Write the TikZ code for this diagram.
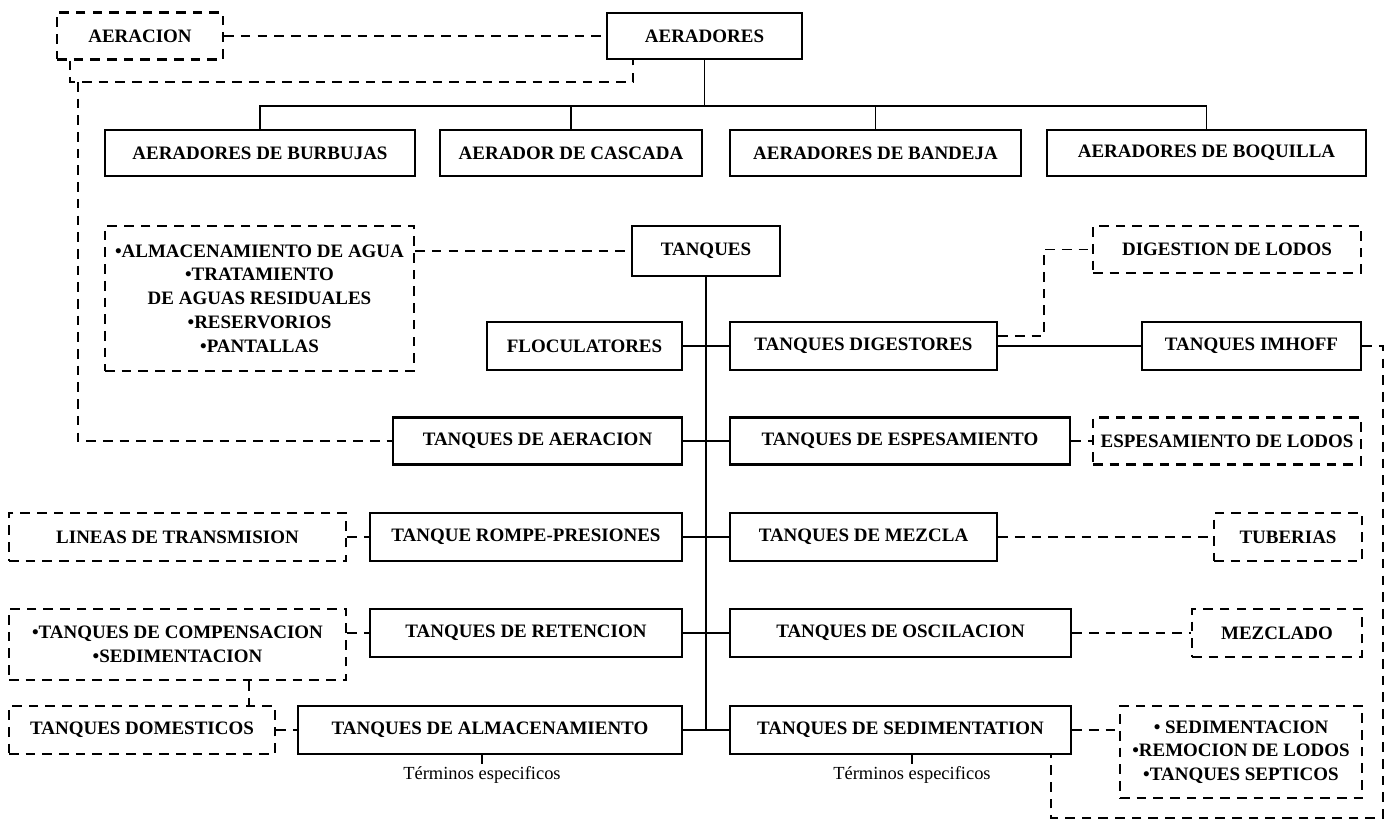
\documentclass[tikz,border=0pt]{standalone}
\usepackage{fontspec}
\setmainfont{Liberation Serif}
\usetikzlibrary{positioning,calc}
\tikzset{>=latex}
\newcommand{\pxl}{0.02cm}

\begin{document}
\begin{tikzpicture}[x=0.02cm, y=-0.02cm,
	box/.style={draw, line width=1.3pt, font=\bfseries\fontsize{10.8}{13.5}\selectfont, align=center, inner sep=1pt},
	dbox/.style={box, dash pattern=on 5.5pt off 4pt},
	line/.style={line width=1.1pt},
	dline/.style={line width=1.1pt, dash pattern=on 5.5pt off 4pt},
	small/.style={font=\fontsize{10.5}{12}\selectfont, inner sep=1pt}]
	\useasboundingbox (0,0) rectangle (1394,824);

	% Top row
	\node[dbox, minimum width=166*\pxl, minimum height=47*\pxl] (aeracion) at (140,36) {AERACION}; %generic term
	\node[box, minimum width=195*\pxl, minimum height=46*\pxl] (aeradores) at (704.5,36) {AERADORES};

	% Kinds of aerators
	\node[box, minimum width=310*\pxl, minimum height=46*\pxl] (burbujas) at (260,153) {AERADORES DE BURBUJAS};
	\node[box, minimum width=262*\pxl, minimum height=46*\pxl] (cascada) at (571,153) {AERADOR DE CASCADA};
	\node[box, minimum width=291*\pxl, minimum height=46*\pxl] (bandeja) at (875.5,153) {AERADORES DE BANDEJA};
	\node[box, minimum width=319*\pxl, minimum height=46*\pxl] (boquilla) at (1206.5,153) {AERADORES DE BOQUILLA};

	% Tanks
	\node[dbox, minimum width=309*\pxl, minimum height=145*\pxl] (almacen) at (259.5,298.5) {\textbullet ALMACENAMIENTO DE AGUA\\ \textbullet TRATAMIENTO\\ DE AGUAS RESIDUALES\\ \textbullet RESERVORIOS\\ \textbullet PANTALLAS};
	\node[box, minimum width=148*\pxl, minimum height=50*\pxl] (tanques) at (706,251) {TANQUES};
	\node[dbox, minimum width=268*\pxl, minimum height=47*\pxl] (digestion) at (1227,249.5) {DIGESTION DE LODOS};

	\node[box, minimum width=195*\pxl, minimum height=48*\pxl] (floculatores) at (584.5,346) {FLOCULATORES};
	\node[box, minimum width=267*\pxl, minimum height=48*\pxl] (digestores) at (863.5,346) {TANQUES DIGESTORES};
	\node[box, minimum width=219*\pxl, minimum height=48*\pxl] (imhoff) at (1251.5,346) {TANQUES IMHOFF};

	\node[box, minimum width=289*\pxl, minimum height=47*\pxl] (taeracion) at (537.5,441) {TANQUES DE AERACION};
	\node[box, minimum width=340*\pxl, minimum height=47*\pxl] (espesamiento) at (900,441) {TANQUES DE ESPESAMIENTO};
	\node[dbox, minimum width=268*\pxl, minimum height=47*\pxl] (esplodos) at (1227,441) {ESPESAMIENTO DE LODOS};

	\node[dbox, minimum width=337*\pxl, minimum height=48*\pxl] (lineas) at (177.5,537) {LINEAS DE TRANSMISION};
	\node[box, minimum width=312*\pxl, minimum height=48*\pxl] (rompe) at (526,537) {TANQUE ROMPE-PRESIONES};
	\node[box, minimum width=267*\pxl, minimum height=48*\pxl] (mezcla) at (863.5,537) {TANQUES DE MEZCLA};
	\node[dbox, minimum width=148*\pxl, minimum height=48*\pxl] (tuberias) at (1288,537) {TUBERIAS};

	\node[dbox, minimum width=337*\pxl, minimum height=71*\pxl] (compensacion) at (177.5,644.5) {\textbullet TANQUES DE COMPENSACION\\ \textbullet SEDIMENTACION};
	\node[box, minimum width=312*\pxl, minimum height=48*\pxl] (retencion) at (526,633) {TANQUES DE RETENCION};
	\node[box, minimum width=341*\pxl, minimum height=48*\pxl] (oscilacion) at (900.5,633) {TANQUES DE OSCILACION};
	\node[dbox, minimum width=170*\pxl, minimum height=48*\pxl] (mezclado) at (1277,633) {MEZCLADO};

	\node[dbox, minimum width=266*\pxl, minimum height=48*\pxl] (domesticos) at (142,730) {TANQUES DOMESTICOS};
	\node[box, minimum width=384*\pxl, minimum height=48*\pxl] (almacenamiento) at (490,730) {TANQUES DE ALMACENAMIENTO};
	\node[box, minimum width=341*\pxl, minimum height=48*\pxl] (sedimentation) at (900.5,730) {TANQUES DE SEDIMENTATION};
	\node[dbox, minimum width=242*\pxl, minimum height=92*\pxl] (septicos) at (1241,752) {\textbullet\ SEDIMENTACION\\ \textbullet REMOCION DE LODOS\\ \textbullet TANQUES SEPTICOS};

	% Extra labels
	\node[small] (term1) at (482,775) {Términos especificos};
	\node[small] (term2) at (912,775) {Términos especificos};

	% Joints of the dashed lines
	\coordinate (aj) at (70,82); %below AERACION
	\coordinate (bj) at (633,82); %below AERADORES
	\coordinate (lj) at (78,82); %long left line
	\coordinate (bus) at (704.5,106); %bus of the aerators
	\coordinate (dj) at (1044,336); %digestion bend
	\coordinate (rj) at (1383,818); %right loop corner
	\coordinate (sj) at (1051,818); %bottom loop corner
	\coordinate (cj) at (249,690); %compensacion to domesticos

	% Drawing everything
	\draw[dline] (aeracion.east) -- (aeradores.west);
	\draw[dline] (aj |- aeracion.south) -- (aj) -- (bj) -- (bj |- aeradores.south);
	\draw[dline] (lj) -- (lj |- taeracion.west) -- (taeracion.west);

	\draw[line] (aeradores.south) -- (aeradores.south |- bus);
	\draw[line] (burbujas.north) |- (boquilla.north |- bus) -- (boquilla.north);
	\foreach \n in {cascada,bandeja}
		\draw[line] (\n.north) -- (\n.north |- bus);

	\draw[line] (tanques.south) -- (tanques.south |- sedimentation.west);
	\foreach \n in {floculatores,taeracion,rompe,retencion,almacenamiento}
		\draw[line] (\n.east) -- (\n.east -| tanques.south);
	\foreach \n in {digestores,espesamiento,mezcla,oscilacion,sedimentation}
		\draw[line] (tanques.south |- \n.west) -- (\n.west);
	\draw[line] (digestores.east) -- (imhoff.west);

	\draw[dline] (almacen.east |- tanques.west) -- (tanques.west);
	\draw[dline] (digestores.east |- dj) -- (dj) |- (digestion.west);
	\draw[dline] (imhoff.east) -| (rj) -- (sj) -- (sj |- sedimentation.south);
	\draw[dline] (espesamiento.east) -- (esplodos.west);
	\draw[dline] (lineas.east) -- (rompe.west);
	\draw[dline] (compensacion.east |- retencion.west) -- (retencion.west);
	\draw[dline] (domesticos.east) -- (almacenamiento.west);
	\draw[dline] (mezcla.east) -- (tuberias.west);
	\draw[dline] (oscilacion.east) -- (mezclado.west);
	\draw[dline] (sedimentation.east) -- (septicos.west |- sedimentation.east);
	\draw[dline] (cj |- compensacion.south) -- (cj |- domesticos.north);

	\draw[line] (term1.north |- almacenamiento.south) -- (term1.north);
	\draw[line] (term2.north |- sedimentation.south) -- (term2.north);
\end{tikzpicture}
\end{document}
